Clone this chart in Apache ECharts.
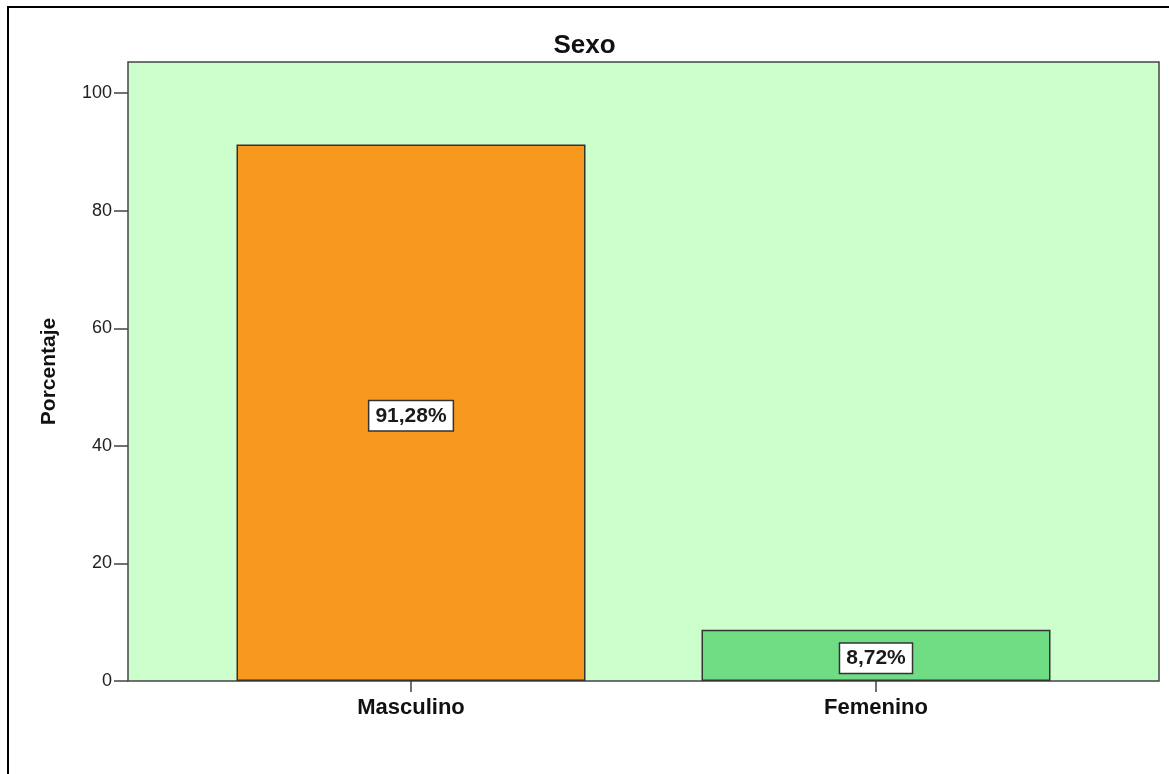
<!DOCTYPE html>
<html>
<head>
<meta charset="utf-8">
<script src="https://cdn.jsdelivr.net/npm/echarts@6/dist/echarts.min.js"></script>
<style>
html,body{margin:0;padding:0;background:#fff;}
#chart{width:1169px;height:774px;}
</style>
</head>
<body>
<div id="chart"></div>
<script>
const titleText = 'Sexo';
const categories = ['Masculino', 'Femenino'];
const values = [91.28, 8.72];
const valueLabels = ['91,28%', '8,72%'];
const barColors = ['#F7981F', '#70DC84'];
const yTicks = [0, 20, 40, 60, 80, 100];
const yName = 'Porcentaje';
const yMax = 105.3;

const font = '"Liberation Sans", Arial, sans-serif';
const chart = echarts.init(document.getElementById('chart'), null, {renderer: 'canvas'});

const option = {
  animation: false,
  backgroundColor: '#ffffff',
  title: {
    text: titleText,
    left: 'center',
    top: 28,
    textStyle: {fontFamily: font, fontSize: 26, fontWeight: 'bold', color: '#111'}
  },
  graphic: [{
    type: 'rect',
    shape: {x: 8, y: 7, width: 1200, height: 800},
    style: {fill: 'none', stroke: '#000', lineWidth: 2},
    silent: true
  }],
  grid: [
    {left: 128, top: 62, width: 1031, height: 619, show: true,
     backgroundColor: '#CCFFCC', borderColor: '#444', borderWidth: 1.5},
    {left: 178.5, top: 62, width: 930, height: 619}
  ],
  xAxis: [
    {type: 'category', gridIndex: 0, data: [''], show: false},
    {type: 'category', gridIndex: 1, data: categories,
     axisLine: {show: false},
     axisTick: {show: true, alignWithLabel: true, length: 11, lineStyle: {color: '#444', width: 1.5}},
     axisLabel: {margin: 16, fontFamily: font, fontSize: 22, fontWeight: 'bold', color: '#111'}
    }
  ],
  yAxis: [
    {type: 'value', gridIndex: 0, min: 0, max: yMax,
     name: yName, nameLocation: 'middle', nameGap: 68, nameRotate: 90,
     nameTextStyle: {fontFamily: font, fontSize: 21, fontWeight: 'bold', color: '#111'},
     axisLine: {show: false},
     splitLine: {show: false},
     axisTick: {show: true, length: 14, customValues: yTicks, lineStyle: {color: '#444', width: 1.5}},
     axisLabel: {margin: 16, fontFamily: font, fontSize: 18, color: '#222', customValues: yTicks}
    },
    {type: 'value', gridIndex: 1, min: 0, max: yMax, show: false, splitLine: {show: false}}
  ],
  series: [{
    type: 'bar',
    xAxisIndex: 1,
    yAxisIndex: 1,
    barWidth: 349,
    data: values.map((v, i) => ({
      value: v,
      itemStyle: {color: barColors[i], borderColor: '#333', borderWidth: 1.5},
      label: {formatter: valueLabels[i]}
    })),
    label: {
      show: true,
      position: 'inside',
      offset: [0, 3],
      fontFamily: font,
      fontSize: 21,
      fontWeight: 'bold',
      color: '#1a1a1a',
      backgroundColor: '#ffffff',
      borderColor: '#333',
      borderWidth: 1.5,
      padding: [5, 6, 3, 6]
    }
  }]
};
chart.setOption(option);
</script>
</body>
</html>
